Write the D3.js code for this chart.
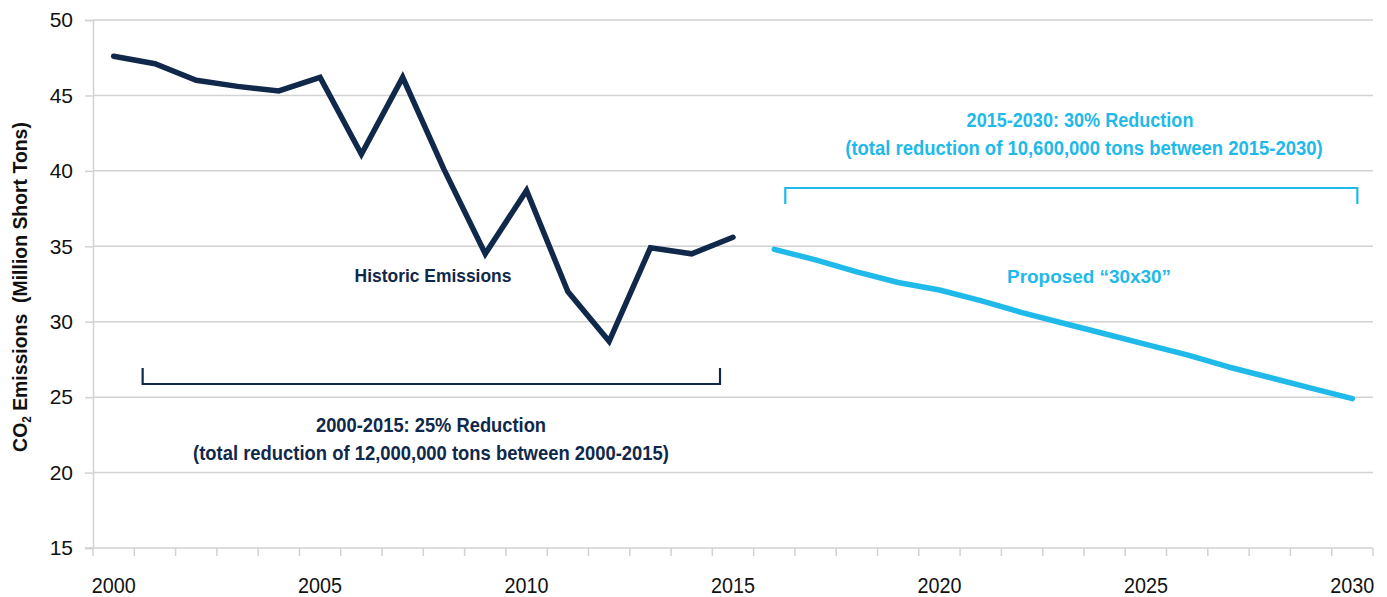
<!DOCTYPE html>
<html>
<head>
<meta charset="utf-8">
<script src="https://cdn.jsdelivr.net/npm/d3@7"></script>
<style>
  html, body { margin: 0; padding: 0; background: #fff; }
  svg { display: block; }
  text { font-family: "Liberation Sans", Arial, sans-serif; }
</style>
</head>
<body>
<svg id="chart" width="1387" height="597"></svg>
<script>
// Annual CO2 emissions, million short tons
const historicYears = [2000, 2001, 2002, 2003, 2004, 2005, 2006, 2007, 2008, 2009, 2010, 2011, 2012, 2013, 2014, 2015];
const historicValues = [47.6, 47.1, 46.0, 45.6, 45.3, 46.2, 41.1, 46.2, 40.1, 34.5, 38.7, 32.0, 28.7, 34.9, 34.5, 35.6];

const proposedYears = [2016, 2017, 2018, 2019, 2020, 2021, 2022, 2023, 2024, 2025, 2026, 2027, 2028, 2029, 2030];
const proposedValues = [34.8, 34.1, 33.3, 32.6, 32.1, 31.4, 30.6, 29.9, 29.2, 28.5, 27.8, 27.0, 26.3, 25.6, 24.9];

const allYears = d3.range(2000, 2031);
const xTickLabels = [2000, 2005, 2010, 2015, 2020, 2025, 2030];
const yTickValues = [15, 20, 25, 30, 35, 40, 45, 50];

const navy = "#10284a";
const sky = "#1fb9ea";
const grid = "#d2d2d2";

const svg = d3.select("#chart");
const plotLeft = 93, plotRight = 1373, plotTop = 20, plotBottom = 548;

const x = d3.scaleBand().domain(allYears).range([plotLeft, plotRight]).paddingInner(0).paddingOuter(0);
const y = d3.scaleLinear().domain([15, 50]).range([plotBottom, plotTop]);
const cx = yr => x(yr) + x.bandwidth() / 2;

// squeeze a text element horizontally so it spans the given width (condensed look)
function condense(textSel, width) {
  const w = textSel.node().getComputedTextLength();
  textSel.attr("transform", `scale(${width / w},1)`);
}

// horizontal gridlines
svg.append("g").selectAll("line").data(yTickValues.filter(v => v > 15)).join("line")
  .attr("x1", plotLeft).attr("x2", plotRight)
  .attr("y1", d => y(d)).attr("y2", d => y(d))
  .attr("stroke", grid).attr("stroke-width", 1.5);

// y axis
const yAxis = svg.append("g").attr("transform", `translate(${plotLeft},0)`)
  .call(d3.axisLeft(y).tickValues(yTickValues).tickSize(8).tickPadding(12).tickFormat(d3.format("d")));
yAxis.select(".domain").attr("stroke", grid).attr("stroke-width", 1.5);
yAxis.selectAll(".tick line").attr("stroke", grid).attr("stroke-width", 1.5);
yAxis.selectAll("text")
  .attr("font-family", "'Liberation Sans', Arial, sans-serif")
  .attr("font-size", 21).attr("fill", "#111");

// x axis: line, boundary ticks, centred year labels
svg.append("line").attr("x1", plotLeft - 8).attr("x2", plotRight).attr("y1", plotBottom).attr("y2", plotBottom)
  .attr("stroke", grid).attr("stroke-width", 1.5);
svg.append("g").selectAll("line").data(allYears.concat([2031])).join("line")
  .attr("x1", d => d === 2031 ? plotRight : x(d)).attr("x2", d => d === 2031 ? plotRight : x(d))
  .attr("y1", plotBottom).attr("y2", plotBottom + 8)
  .attr("stroke", grid).attr("stroke-width", 1.5);
svg.append("g").selectAll("g").data(xTickLabels).join("g")
  .attr("transform", d => `translate(${cx(d)},${plotBottom + 45})`)
  .each(function (d) {
    const t = d3.select(this).append("text")
      .attr("text-anchor", "middle")
      .attr("font-size", 22).attr("fill", "#111")
      .text(d);
    condense(t, 44);
  });

// y axis title
const yTitleG = svg.append("g").attr("transform", `translate(27,287) rotate(-90)`);
const yTitle = yTitleG.append("text")
  .style("white-space", "pre")
  .attr("text-anchor", "middle").attr("font-size", 20).attr("font-weight", "bold").attr("fill", "#111");
yTitle.append("tspan").text("CO");
yTitle.append("tspan").attr("font-size", 12).attr("dy", 4).text("2");
yTitle.append("tspan").attr("dy", -4).text(" Emissions  (Million Short Tons)");
condense(yTitle, 330);

// lines
const line = d3.line().x(d => cx(d[0])).y(d => y(d[1]));
svg.append("path").datum(d3.zip(historicYears, historicValues))
  .attr("d", line).attr("fill", "none").attr("stroke", navy)
  .attr("stroke-width", 5.5).attr("stroke-linejoin", "miter").attr("stroke-linecap", "round");
svg.append("path").datum(d3.zip(proposedYears, proposedValues))
  .attr("d", line).attr("fill", "none").attr("stroke", sky)
  .attr("stroke-width", 5.5).attr("stroke-linejoin", "round").attr("stroke-linecap", "round");

// brackets spanning each period
function bracket(x0, x1, yLine, yEnd, color) {
  svg.append("path")
    .attr("d", `M${x0},${yEnd}V${yLine}H${x1}V${yEnd}`)
    .attr("fill", "none").attr("stroke", color).attr("stroke-width", 2.2);
}
bracket(cx(2000) + 29, cx(2015) - 13, 384, 368, navy);
bracket(cx(2016) + 11, cx(2030) + 5, 188, 204, sky);

// annotation text
function label(txt, xPos, yPos, color, size, width) {
  const t = svg.append("g").attr("transform", `translate(${xPos},${yPos})`)
    .append("text").attr("text-anchor", "middle")
    .attr("font-size", size).attr("font-weight", "bold").attr("fill", color)
    .text(txt);
  condense(t, width);
}
label("Historic Emissions", 433, 282, navy, 19, 157);
label("2000-2015: 25% Reduction", 431, 432, navy, 21, 230);
label("(total reduction of 12,000,000 tons between 2000-2015)", 431, 460, navy, 21, 476);
label("2015-2030: 30% Reduction", 1080, 127, sky, 21, 227);
label("(total reduction of 10,600,000 tons between 2015-2030)", 1084, 155, sky, 21, 478);
label("Proposed \u201c30x30\u201d", 1089, 283, sky, 19, 164);
</script>
</body>
</html>
